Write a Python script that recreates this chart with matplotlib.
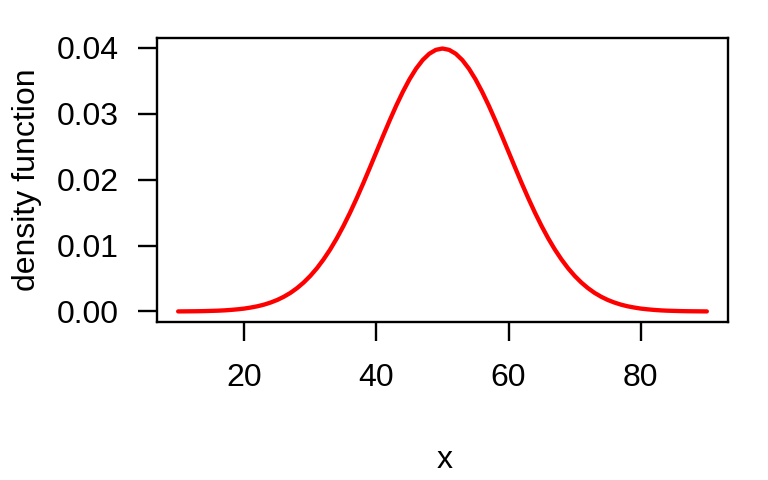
import matplotlib
matplotlib.use("Agg")
import matplotlib.pyplot as plt

x_vals = list(range(10, 91))
density = [0.00001, 0.00002, 0.00003, 0.00004, 0.00006, 0.00009, 0.00012, 0.00017, 0.00024,
           0.00033, 0.00044, 0.00060, 0.00079, 0.00104, 0.00136, 0.00175, 0.00224, 0.00283,
           0.00355, 0.00440, 0.00540, 0.00656, 0.00790, 0.00940, 0.01109, 0.01295, 0.01497,
           0.01714, 0.01942, 0.02179, 0.02420, 0.02661, 0.02897, 0.03123, 0.03332, 0.03521,
           0.03683, 0.03814, 0.03910, 0.03969, 0.03989,
           0.03969, 0.03910, 0.03814, 0.03683, 0.03521, 0.03332, 0.03123, 0.02897, 0.02661,
           0.02420, 0.02179, 0.01942, 0.01714, 0.01497, 0.01295, 0.01109, 0.00940, 0.00790,
           0.00656, 0.00540, 0.00440, 0.00355, 0.00283, 0.00224, 0.00175, 0.00136, 0.00104,
           0.00079, 0.00060, 0.00044, 0.00033, 0.00024, 0.00017, 0.00012, 0.00009, 0.00006,
           0.00004, 0.00003, 0.00002, 0.00001]
x_ticks = [20, 40, 60, 80]
y_ticks = [0.00, 0.01, 0.02, 0.03, 0.04]
y_tick_labels = ["0.00", "0.01", "0.02", "0.03", "0.04"]

plt.rcParams['font.family'] = ['Liberation Sans', 'DejaVu Sans']

fig = plt.figure(figsize=(7.68, 4.8), dpi=100)
ax = fig.add_axes([157/768, 1-322/480, (728-157)/768, (322-38)/480])
ax.plot(x_vals, density, color='red', lw=3.1, solid_joinstyle='round', solid_capstyle='round')

xr = max(x_vals) - min(x_vals)
ax.set_xlim(min(x_vals) - 0.04*xr, max(x_vals) + 0.04*xr)
ymax = max(density)
ax.set_ylim(0 - 0.04*ymax, ymax + 0.04*ymax)

ax.set_xticks(x_ticks)
ax.set_xticklabels([str(t) for t in x_ticks])
ax.set_yticks(y_ticks)
ax.set_yticklabels(y_tick_labels)
ax.tick_params(direction='out', length=13.7, width=1.7, labelsize=23, colors='black')
ax.tick_params(axis='x', pad=16)
ax.tick_params(axis='y', pad=14)
for s in ax.spines.values():
    s.set_linewidth(1.7)

ax.set_xlabel("x", fontsize=23)
ax.set_ylabel("density function", fontsize=23)
ax.xaxis.set_label_coords((445-157)/(728-157), -(460-322)/(322-38), transform=ax.transAxes)
ax.xaxis.label.set_va('center')
ax.yaxis.set_label_coords(-(157-27)/(728-157), 0.5)
ax.yaxis.label.set_va('center')

fig.savefig("out.png", dpi=100)
